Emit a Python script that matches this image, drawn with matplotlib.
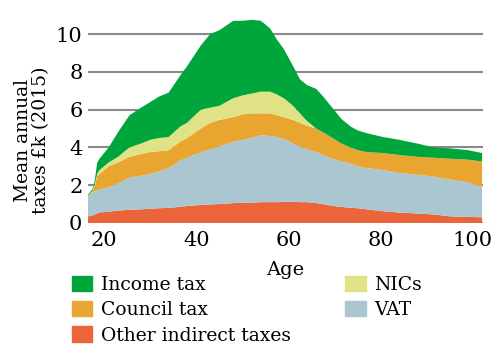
import numpy as np
import matplotlib
matplotlib.use('Agg')
import matplotlib.pyplot as plt
from matplotlib.patches import Patch

plt.rcParams['font.family'] = ['DejaVu Serif']

# ages and the top edge of each stacked layer (£k)
age = [16.5, 17.5, 18.0, 18.5, 19, 21, 23, 25.5, 28, 30, 32, 34, 36.5, 38, 41, 43, 45,
       48, 50, 52, 54, 56, 57.5, 59, 61, 62.5, 64, 66, 67.5, 69.5, 71.5, 73.5, 75, 77,
       80.5, 84, 88, 91.5, 95, 99, 102]
other_top = [0.35, 0.4, 0.45, 0.5, 0.55, 0.6, 0.65, 0.7, 0.72, 0.75, 0.78, 0.8, 0.85, 0.9,
             0.95, 0.98, 1.0, 1.05, 1.07, 1.08, 1.1, 1.1, 1.1, 1.12, 1.12, 1.1, 1.1, 1.05,
             1.0, 0.9, 0.85, 0.8, 0.78, 0.72, 0.62, 0.55, 0.5, 0.45, 0.35, 0.32, 0.3]
vat_top = [1.4, 1.6, 1.7, 1.75, 1.75, 1.9, 2.1, 2.4, 2.5, 2.6, 2.75, 2.9, 3.3, 3.45, 3.75,
           3.9, 4.05, 4.3, 4.4, 4.5, 4.65, 4.6, 4.55, 4.45, 4.2, 4.05, 3.9, 3.75, 3.6, 3.4,
           3.25, 3.15, 3.0, 2.9, 2.8, 2.65, 2.55, 2.45, 2.3, 2.15, 1.9]
council_top = [1.45, 1.65, 2.0, 2.5, 2.6, 3.0, 3.2, 3.5, 3.65, 3.75, 3.8, 3.85, 4.3, 4.5,
               5.0, 5.3, 5.45, 5.6, 5.75, 5.8, 5.8, 5.8, 5.7, 5.6, 5.45, 5.3, 5.15, 5.0,
               4.8, 4.5, 4.2, 4.0, 3.85, 3.75, 3.7, 3.6, 3.5, 3.45, 3.4, 3.35, 3.25]
nics_top = [1.45, 1.7, 2.1, 2.6, 2.8, 3.2, 3.5, 4.0, 4.2, 4.4, 4.5, 4.55, 5.1, 5.3, 6.0,
            6.1, 6.2, 6.6, 6.75, 6.85, 6.95, 6.95, 6.8, 6.6, 6.2, 5.8, 5.4, 5.0, 4.8, 4.5,
            4.2, 4.0, 3.85, 3.75, 3.7, 3.6, 3.5, 3.45, 3.4, 3.35, 3.25]
total_top = [1.5, 1.8, 2.3, 3.2, 3.4, 4.0, 4.8, 5.7, 6.1, 6.4, 6.7, 6.9, 7.8, 8.3, 9.4,
             10.0, 10.2, 10.7, 10.7, 10.75, 10.7, 10.3, 9.7, 9.2, 8.3, 7.6, 7.3, 7.1, 6.7,
             6.1, 5.5, 5.1, 4.9, 4.75, 4.55, 4.4, 4.2, 4.0, 3.95, 3.85, 3.7]

labels = ['Other indirect taxes', 'VAT', 'Council tax', 'NICs', 'Income tax']
colors = ['#ec6439', '#a9c6d1', '#e8a631', '#dfe385', '#00a63c']

tops = np.array([other_top, vat_top, council_top, nics_top, total_top])
layers = np.diff(np.vstack([np.zeros(len(age)), tops]), axis=0)

fig = plt.figure(figsize=(5, 3.55), dpi=100)
ax = fig.add_axes([0.176, 0.372, 0.79, 0.596])

for yv in range(0, 11, 2):
    ax.axhline(yv, color='#8a8a8a', lw=1.5, zorder=0)
ax.stackplot(age, layers, colors=colors, zorder=2, lw=0)

ax.set_xlim(16.5, 102.2)
ax.set_ylim(0, 11.2)
ax.set_xticks([20, 40, 60, 80, 100])
ax.set_yticks([0, 2, 4, 6, 8, 10])
ax.tick_params(length=0, labelsize=15, pad=4)
ax.tick_params(axis='x', pad=6)
for s in ax.spines.values():
    s.set_visible(False)
ax.set_xlabel('Age', fontsize=14, labelpad=8)
ax.set_ylabel('Mean annual\ntaxes £k (2015)', fontsize=13.5, linespacing=0.95)
ax.yaxis.set_label_coords(-0.097, 0.39)

order = [4, 2, 0, 3, 1]
handles = [Patch(color=colors[i], label=labels[i]) for i in order]
fig.legend(handles=handles, ncol=2, loc='upper left', bbox_to_anchor=(0.128, 0.245),
           frameon=False, fontsize=13.5, handlelength=1.1, handleheight=0.9,
           handletextpad=0.45, labelspacing=0.38, columnspacing=2.9, borderaxespad=0)

fig.savefig('out.png', dpi=100)
